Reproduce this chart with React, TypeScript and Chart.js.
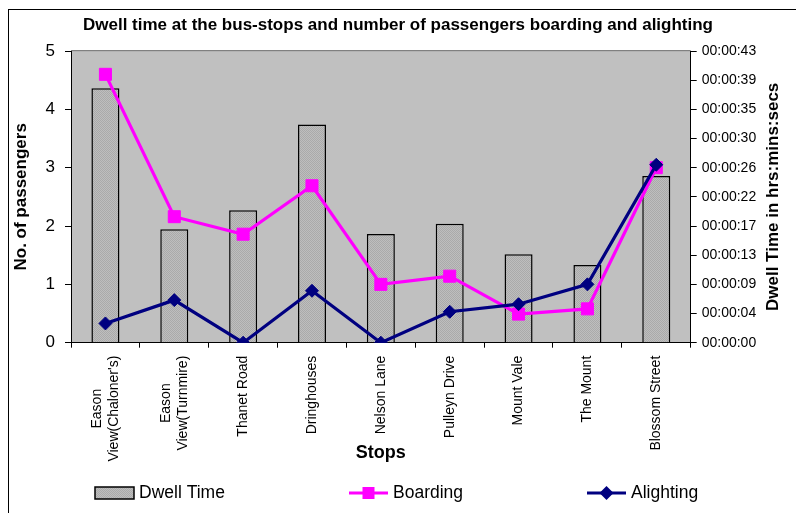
import React, { useEffect, useRef } from 'react';
import { Chart, registerables } from 'chart.js';

Chart.register(...registerables);

// Stops along the route (two-line names are split into arrays)
const stops: (string | string[])[] = [
  ['Eason', "View(Chaloner's)"],
  ['Eason', 'View(Turnmire)'],
  'Thanet Road',
  'Dringhouses',
  'Nelson Lane',
  'Pulleyn Drive',
  'Mount Vale',
  'The Mount',
  'Blossom Street',
];

// Mean dwell time per stop, in seconds
const dwellSeconds = [37.7, 16.8, 19.6, 32.3, 16.1, 17.6, 13.1, 11.5, 24.7];

// Mean number of passengers per stop
const boarding = [4.6, 2.16, 1.86, 2.69, 1.0, 1.14, 0.49, 0.58, 3.0];
const alighting = [0.33, 0.73, 0, 0.89, 0, 0.53, 0.66, 1.0, 3.05];

const titleText = 'Dwell time at the bus-stops and number of passengers boarding and alighting';
const passengerAxisTitle = 'No. of passengers';
const dwellAxisTitle = 'Dwell Time in hrs:mins:secs';
const stopsAxisTitle = 'Stops';

const FONT = "'Liberation Sans', Arial, Helvetica, sans-serif";
const MAGENTA = '#FF00FF';
const NAVY = '#000080';

function hms(totalSeconds: number): string {
  const t = Math.round(totalSeconds);
  const h = Math.floor(t / 3600);
  const m = Math.floor((t % 3600) / 60);
  const s = t % 60;
  const p = (n: number) => String(n).padStart(2, '0');
  return `${p(h)}:${p(m)}:${p(s)}`;
}

// Fine grey stipple used for the dwell-time bars
function makeStipple(): CanvasPattern | string {
  const c = document.createElement('canvas');
  c.width = 2;
  c.height = 2;
  const g = c.getContext('2d');
  if (!g) return '#b4b4b4';
  g.fillStyle = '#bebebe';
  g.fillRect(0, 0, 2, 2);
  g.fillStyle = '#aaaaaa';
  g.fillRect(0, 0, 1, 1);
  g.fillRect(1, 1, 1, 1);
  return g.createPattern(c, 'repeat') || '#b4b4b4';
}

// White page, outer frame and grey plot area
const backdrop = {
  id: 'backdrop',
  beforeDraw(chart: any) {
    const { ctx, chartArea, width, height } = chart;
    ctx.save();
    ctx.fillStyle = '#ffffff';
    ctx.fillRect(0, 0, width, height);
    ctx.fillStyle = '#000000';
    ctx.fillRect(8, 9, 1, height - 9);
    ctx.fillRect(8, 9, width - 8, 1);
    ctx.fillStyle = '#C0C0C0';
    ctx.fillRect(chartArea.left, chartArea.top, chartArea.right - chartArea.left, chartArea.bottom - chartArea.top);
    ctx.fillStyle = '#808080';
    ctx.fillRect(chartArea.left, Math.round(chartArea.top) - 1, chartArea.right - chartArea.left, 1.2);
    ctx.restore();
  },
};

// Vertical stop names, lines of a name centred on each other
const stopLabels = {
  id: 'stopLabels',
  afterDraw(chart: any) {
    const xs = chart.scales.x;
    const ctx = chart.ctx;
    ctx.save();
    ctx.font = `14px ${FONT}`;
    ctx.fillStyle = '#000';
    ctx.textAlign = 'center';
    ctx.textBaseline = 'middle';
    const top = xs.top + 13;
    const lineHeight = 17;
    (chart.data.labels as (string | string[])[]).forEach((lab, i) => {
      const lines = Array.isArray(lab) ? lab : [lab];
      const w = Math.max(...lines.map((l) => ctx.measureText(l).width));
      const x = xs.getPixelForValue(i);
      ctx.save();
      ctx.translate(x, top);
      ctx.rotate(-Math.PI / 2);
      lines.forEach((l, j) => {
        ctx.fillText(l, -w / 2, (j - (lines.length - 1) / 2) * lineHeight);
      });
      ctx.restore();
    });
    ctx.restore();
  },
};

// Right axis title, reading bottom to top
const dwellTitle = {
  id: 'dwellTitle',
  afterDraw(chart: any) {
    const s = chart.scales.yDwell;
    const { ctx, chartArea } = chart;
    ctx.save();
    ctx.font = `bold 17px ${FONT}`;
    ctx.fillStyle = '#000';
    ctx.textAlign = 'center';
    ctx.textBaseline = 'middle';
    ctx.translate(s.right - 23, (chartArea.top + chartArea.bottom) / 2);
    ctx.rotate(-Math.PI / 2);
    ctx.fillText(dwellAxisTitle, 0, 0);
    ctx.restore();
  },
};

// Key along the bottom edge
const seriesKey = {
  id: 'seriesKey',
  afterDraw(chart: any, _args: any, opts: any) {
    const { ctx } = chart;
    const y = opts.y as number;
    const starts = opts.starts as number[];
    const symW = 39;
    ctx.save();
    ctx.font = `17.5px ${FONT}`;
    ctx.textBaseline = 'middle';
    ctx.textAlign = 'left';
    chart.data.datasets.forEach((ds: any, i: number) => {
      const x0 = starts[i];
      if (ds.type === 'bar') {
        ctx.fillStyle = ds.backgroundColor;
        ctx.fillRect(x0, y - 6, symW, 12);
        ctx.lineWidth = 1.5;
        ctx.strokeStyle = '#000';
        ctx.strokeRect(x0, y - 6, symW, 12);
      } else {
        const cx = x0 + symW / 2;
        ctx.strokeStyle = ds.borderColor;
        ctx.lineWidth = 3;
        ctx.beginPath();
        ctx.moveTo(x0, y);
        ctx.lineTo(x0 + symW, y);
        ctx.stroke();
        ctx.fillStyle = ds.pointBackgroundColor;
        ctx.beginPath();
        if (ds.pointStyle === 'rect') {
          ctx.rect(cx - 6, y - 6, 12, 12);
        } else {
          ctx.moveTo(cx - 7, y);
          ctx.lineTo(cx, y - 7);
          ctx.lineTo(cx + 7, y);
          ctx.lineTo(cx, y + 7);
          ctx.closePath();
        }
        ctx.fill();
      }
      ctx.fillStyle = '#000';
      ctx.fillText(ds.label, x0 + symW + 5, y + 0.5);
    });
    ctx.restore();
  },
};

export default function App() {
  const canvasRef = useRef<HTMLCanvasElement | null>(null);

  useEffect(() => {
    const canvas = canvasRef.current;
    if (!canvas) return;
    const stipple = makeStipple();

    const chart = new Chart(canvas, {
      type: 'bar',
      data: {
        labels: stops as any,
        datasets: [
          {
            type: 'bar',
            label: 'Dwell Time',
            data: dwellSeconds,
            yAxisID: 'yDwell',
            backgroundColor: stipple as any,
            borderColor: '#000',
            borderWidth: 1.5,
            barPercentage: 0.407,
            categoryPercentage: 1,
            order: 3,
          },
          {
            type: 'line',
            label: 'Boarding',
            data: boarding,
            yAxisID: 'y',
            borderColor: MAGENTA,
            backgroundColor: MAGENTA,
            borderWidth: 3.2,
            tension: 0,
            pointStyle: 'rect',
            pointRadius: 8.5,
            pointBorderWidth: 1,
            pointBackgroundColor: MAGENTA,
            pointBorderColor: MAGENTA,
            order: 2,
          } as any,
          {
            type: 'line',
            label: 'Alighting',
            data: alighting,
            yAxisID: 'y',
            borderColor: NAVY,
            backgroundColor: NAVY,
            borderWidth: 3.2,
            tension: 0,
            pointStyle: 'rectRot',
            pointRadius: 6.5,
            pointBorderWidth: 1,
            pointBackgroundColor: NAVY,
            pointBorderColor: NAVY,
            order: 1,
          } as any,
        ],
      },
      options: {
        responsive: false,
        animation: false,
        events: [],
        font: { family: FONT },
        layout: { padding: { left: 0, right: 0, top: 0, bottom: 49.2 } },
        plugins: {
          legend: { display: false },
          tooltip: { enabled: false },
          title: {
            display: true,
            text: titleText,
            color: '#000',
            font: { family: FONT, size: 17, weight: 'bold' },
            padding: { top: 15.5, bottom: 15.1 },
          },
          seriesKey: { y: 493, starts: [95, 349, 587] },
        } as any,
        scales: {
          x: {
            type: 'category',
            position: 'bottom',
            offset: true,
            grid: {
              display: true,
              drawOnChartArea: false,
              drawTicks: true,
              tickLength: 5,
              color: '#000',
              lineWidth: 1,
              offset: true,
            },
            border: { display: true, color: '#000', width: 1 },
            ticks: { display: false },
            title: {
              display: true,
              text: stopsAxisTitle,
              color: '#000',
              font: { family: FONT, size: 18, weight: 'bold' },
              padding: { top: 0, bottom: 0 },
            },
            afterFit: (s: any) => {
              s.height = 121.1;
            },
          },
          y: {
            type: 'linear',
            position: 'left',
            min: 0,
            max: 5,
            ticks: { stepSize: 1, color: '#000', font: { family: FONT, size: 17 }, padding: 10 },
            grid: { drawOnChartArea: false, drawTicks: true, tickLength: 6, color: '#000' },
            border: { display: true, color: '#000', width: 1 },
            title: {
              display: true,
              text: passengerAxisTitle,
              color: '#000',
              font: { family: FONT, size: 17, weight: 'bold' },
              padding: { top: 10.8, bottom: 0 },
            },
            afterFit: (s: any) => {
              s.width = 71;
            },
          },
          yDwell: {
            type: 'linear',
            position: 'right',
            min: 0,
            max: 43.2,
            ticks: {
              count: 11,
              color: '#000',
              font: { family: FONT, size: 14 },
              padding: 5,
              callback: (v: any) => hms(Number(v)),
            },
            grid: { drawOnChartArea: false, drawTicks: true, tickLength: 6, color: '#000' },
            border: { display: true, color: '#000', width: 1 },
            afterFit: (s: any) => {
              s.width = 105.3;
            },
          },
        } as any,
      },
      plugins: [backdrop, stopLabels, dwellTitle, seriesKey],
    });

    return () => chart.destroy();
  }, []);

  return (
    <canvas
      ref={canvasRef}
      width={796}
      height={513}
      style={{ position: 'absolute', left: 0, top: 0, display: 'block' }}
    />
  );
}
